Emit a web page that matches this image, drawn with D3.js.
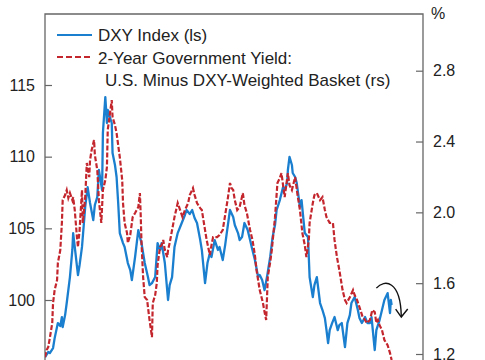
<!DOCTYPE html>
<html>
<head>
<meta charset="utf-8">
<script src="https://cdn.jsdelivr.net/npm/d3@7"></script>
<style>
  body { margin: 0; background: #fff; }
  svg { display: block; font-family: "Liberation Sans", Arial, sans-serif; }
  .tick text { font-size: 16px; fill: #222; }
  .tick line { stroke: #666; stroke-width: 1.2; }
</style>
</head>
<body>
<div id="chart"></div>
<script>

// DXY index (left scale), sampled by decimal year
var dxyYears = [2022.00,2022.04,2022.06,2022.10,2022.12,2022.16,2022.19,2022.21,2022.22,2022.25,2022.27,2022.31,2022.34,2022.35,2022.37,2022.40,2022.41,2022.43,2022.46,2022.50,2022.53,2022.56,2022.60,2022.62,2022.65,2022.67,2022.71,2022.72,2022.75,2022.77,2022.78,2022.81,2022.83,2022.84,2022.87,2022.89,2022.91,2022.93,2022.97,2022.99,2023.03,2023.06,2023.08,2023.12,2023.16,2023.18,2023.20,2023.24,2023.28,2023.30,2023.33,2023.37,2023.40,2023.43,2023.45,2023.49,2023.53,2023.55,2023.58,2023.61,2023.65,2023.70,2023.74,2023.76,2023.80,2023.83,2023.86,2023.89,2023.93,2023.95,2023.99,2024.02,2024.05,2024.07,2024.11,2024.15,2024.17,2024.21,2024.24,2024.26,2024.30,2024.34,2024.36,2024.40,2024.42,2024.45,2024.48,2024.52,2024.55,2024.57,2024.61,2024.65,2024.67,2024.70,2024.73,2024.76,2024.80,2024.83,2024.86,2024.88,2024.92,2024.96,2024.98,2025.01,2025.02,2025.04,2025.07,2025.08,2025.11,2025.13,2025.17,2025.19,2025.23,2025.27,2025.29,2025.33,2025.35,2025.38,2025.42,2025.45,2025.48,2025.50,2025.52,2025.54,2025.57,2025.60,2025.64,2025.66,2025.69,2025.73,2025.76,2025.79,2025.81,2025.85,2025.89,2025.91,2025.94,2025.98,2026.01,2026.04,2026.06,2026.10,2026.12,2026.16,2026.19,2026.22,2026.26,2026.29,2026.30,2026.31];
var dxyValues = [96.02,96.37,96.30,96.65,97.34,98.39,98.18,98.81,98.11,98.95,99.79,101.60,103.49,104.67,103.70,102.23,101.74,102.44,103.70,106.49,107.88,106.77,105.58,106.63,107.18,109.07,107.67,111.65,114.16,112.35,113.26,112.70,112.35,110.25,109.42,108.58,106.77,104.67,103.97,103.70,102.58,102.09,101.39,103.00,104.88,104.39,103.97,102.58,101.60,101.04,101.18,101.60,103.97,103.49,103.97,102.58,100.00,101.04,101.60,103.70,104.67,105.37,105.93,106.28,106.00,106.28,105.72,105.37,104.18,103.49,101.18,102.58,103.28,103.00,104.18,103.49,103.70,102.79,103.83,104.67,106.28,105.79,105.23,104.67,104.18,104.39,105.37,104.88,104.18,103.70,102.79,101.60,101.74,101.39,100.69,101.60,103.00,104.39,105.23,106.28,106.97,107.88,107.67,108.16,109.07,109.98,109.42,108.86,108.58,108.16,106.49,106.97,104.67,104.39,101.60,100.21,101.04,101.60,99.79,99.30,98.74,97.90,97.00,97.90,98.39,98.81,97.90,98.25,98.39,96.72,98.39,98.95,99.79,100.21,99.30,98.74,98.39,98.81,98.39,98.39,98.81,96.51,97.90,98.60,99.30,100.00,100.48,99.09,100.00,99.65];

// 2-year yield spread, U.S. minus DXY-weighted basket (right scale, %)
var yieldYears = [2022.00,2022.02,2022.04,2022.06,2022.09,2022.10,2022.12,2022.15,2022.16,2022.19,2022.21,2022.22,2022.25,2022.27,2022.29,2022.31,2022.34,2022.35,2022.37,2022.40,2022.41,2022.43,2022.46,2022.47,2022.50,2022.52,2022.55,2022.56,2022.58,2022.61,2022.62,2022.65,2022.67,2022.70,2022.72,2022.75,2022.77,2022.78,2022.81,2022.83,2022.84,2022.87,2022.89,2022.91,2022.93,2022.96,2022.97,2022.99,2023.02,2023.03,2023.06,2023.09,2023.12,2023.16,2023.18,2023.19,2023.20,2023.22,2023.24,2023.27,2023.28,2023.30,2023.33,2023.34,2023.37,2023.39,2023.40,2023.43,2023.45,2023.47,2023.49,2023.52,2023.53,2023.55,2023.58,2023.61,2023.65,2023.68,2023.71,2023.74,2023.78,2023.80,2023.84,2023.86,2023.89,2023.93,2023.95,2023.99,2024.01,2024.05,2024.07,2024.09,2024.14,2024.17,2024.21,2024.24,2024.27,2024.30,2024.32,2024.34,2024.36,2024.39,2024.42,2024.46,2024.48,2024.51,2024.55,2024.58,2024.61,2024.63,2024.67,2024.71,2024.73,2024.75,2024.77,2024.80,2024.82,2024.86,2024.89,2024.92,2024.94,2024.98,2025.02,2025.04,2025.07,2025.11,2025.14,2025.17,2025.20,2025.23,2025.25,2025.28,2025.29,2025.33,2025.35,2025.38,2025.42,2025.45,2025.48,2025.50,2025.54,2025.58,2025.60,2025.63,2025.66,2025.70,2025.73,2025.75,2025.79,2025.83,2025.85,2025.88,2025.91,2025.95,2025.98,2026.00,2026.04,2026.07,2026.10,2026.12,2026.14,2026.16,2026.19,2026.22,2026.26,2026.29,2026.31];
var yieldValues = [1.182,1.222,1.239,1.290,1.375,1.488,1.561,1.618,1.714,1.787,1.940,2.069,2.098,2.126,2.081,2.109,2.069,2.086,2.013,1.844,1.804,1.900,2.126,1.940,2.086,2.279,2.199,2.295,2.352,2.408,2.324,2.239,2.069,1.940,2.126,2.182,2.256,2.465,2.567,2.634,2.538,2.493,2.448,2.380,2.312,2.182,2.053,1.940,1.883,1.827,1.872,1.973,1.996,2.030,2.109,1.985,1.827,1.634,1.521,1.505,1.465,1.392,1.295,1.488,1.533,1.601,1.702,1.804,1.815,1.844,1.787,1.747,1.787,1.827,1.900,1.973,2.053,2.013,1.973,2.013,2.053,2.098,2.137,2.098,2.053,2.024,2.013,1.900,1.844,1.759,1.815,1.860,1.860,1.872,1.900,1.985,2.069,2.166,2.137,2.126,2.069,2.013,2.030,2.109,2.041,1.996,1.900,1.844,1.759,1.674,1.561,1.488,1.437,1.392,1.634,1.719,1.787,1.973,2.166,2.194,2.222,2.086,2.222,2.154,2.126,2.199,2.098,2.013,1.883,1.815,1.747,1.844,1.940,2.053,2.098,2.109,2.069,2.086,2.013,1.973,1.940,1.940,1.844,1.747,1.674,1.561,1.505,1.488,1.521,1.561,1.533,1.505,1.465,1.408,1.392,1.375,1.392,1.448,1.437,1.375,1.392,1.363,1.335,1.279,1.250,1.205,1.166];

var leftTicks = [100, 105, 110, 115];
var rightTicks = [1.2, 1.6, 2.0, 2.4, 2.8];
var legendLabels = ["DXY Index (ls)", "2-Year Government Yield:", "U.S. Minus DXY-Weighted Basket (rs)"];

// curved arrow annotation, [year, DXY level]
var arrowCurve = [[2026.12, 100.83], [2026.22, 101.46], [2026.42, 101.39], [2026.43, 98.88]];
var arrowHead = [[2026.36, 99.37], [2026.43, 98.81], [2026.51, 99.37]];

var blue = "#1b7fcf",
    red = "#c4262e";

// chart geometry
var outerWidth = 485,
    outerHeight = 360,
    margin = {top: 14, right: 62, left: 45},
    plotRight = outerWidth - margin.right;

var svg = d3.select("#chart").append("svg")
    .attr("width", outerWidth)
    .attr("height", outerHeight);

var x = d3.scaleLinear()
    .domain([2022, 2026.7])
    .range([margin.left, plotRight]);

var yLeft = d3.scaleLinear()
    .domain([100, 115])
    .range([300, 85]);

var yRight = d3.scaleLinear()
    .domain([1.2, 2.8])
    .range([354, 70.7]);

svg.append("clipPath")
    .attr("id", "plot-area")
    .append("rect")
    .attr("x", margin.left)
    .attr("y", margin.top)
    .attr("width", plotRight - margin.left)
    .attr("height", outerHeight - margin.top);

// frame (bottom edge is off the picture)
svg.append("path")
    .attr("d", "M" + margin.left + "," + outerHeight + "V" + margin.top + "H" + plotRight + "V" + outerHeight)
    .attr("fill", "none")
    .attr("stroke", "#666")
    .attr("stroke-width", 1.3);

var leftAxis = svg.append("g")
    .attr("transform", "translate(" + margin.left + ",0)")
    .call(d3.axisLeft(yLeft).tickValues(leftTicks).tickSize(-7).tickPadding(10));

var rightAxis = svg.append("g")
    .attr("transform", "translate(" + plotRight + ",0)")
    .call(d3.axisRight(yRight).tickValues(rightTicks).tickSize(-7).tickPadding(10)
        .tickFormat(d3.format(".1f")));

[leftAxis, rightAxis].forEach(function (a) {
    a.select(".domain").remove();
    a.attr("font-family", null).attr("font-size", null);
});

svg.append("text")
    .attr("x", plotRight + 8)
    .attr("y", 19)
    .attr("font-size", 16)
    .attr("fill", "#222")
    .text("%");

// series
var lines = svg.append("g").attr("clip-path", "url(#plot-area)");

var dxyLine = d3.line()
    .x(function (d, i) { return x(dxyYears[i]); })
    .y(function (d) { return yLeft(d); });

var yieldLine = d3.line()
    .x(function (d, i) { return x(yieldYears[i]); })
    .y(function (d) { return yRight(d); });

lines.append("path")
    .datum(dxyValues)
    .attr("d", dxyLine)
    .attr("fill", "none")
    .attr("stroke", blue)
    .attr("stroke-width", 2.3)
    .attr("stroke-linejoin", "round");

lines.append("path")
    .datum(yieldValues)
    .attr("d", yieldLine)
    .attr("fill", "none")
    .attr("stroke", red)
    .attr("stroke-width", 2.2)
    .attr("stroke-dasharray", "5,2");

// arrow
svg.append("path")
    .attr("d", "M" + x(arrowCurve[0][0]) + "," + yLeft(arrowCurve[0][1]) + "C" +
        arrowCurve.slice(1).map(function (d) { return x(d[0]) + "," + yLeft(d[1]); }).join(" "))
    .attr("fill", "none")
    .attr("stroke", "#111")
    .attr("stroke-width", 1.4);

svg.append("path")
    .attr("d", d3.line()
        .x(function (d) { return x(d[0]); })
        .y(function (d) { return yLeft(d[1]); })(arrowHead))
    .attr("fill", "none")
    .attr("stroke", "#111")
    .attr("stroke-width", 1.4);

// legend
var legend = svg.append("g").attr("font-size", 17).attr("fill", "#222");

legend.append("line")
    .attr("x1", 57).attr("x2", 92).attr("y1", 35).attr("y2", 35)
    .attr("stroke", blue).attr("stroke-width", 2);

legend.append("line")
    .attr("x1", 57).attr("x2", 92).attr("y1", 57).attr("y2", 57)
    .attr("stroke", red).attr("stroke-width", 2)
    .attr("stroke-dasharray", "6,3");

legend.selectAll("text")
    .data(legendLabels)
    .enter().append("text")
    .attr("x", function (d, i) { return i < 2 ? 98 : 105; })
    .attr("y", function (d, i) { return 41 + i * 22.5; })
    .text(function (d) { return d; });

</script>
</body>
</html>
